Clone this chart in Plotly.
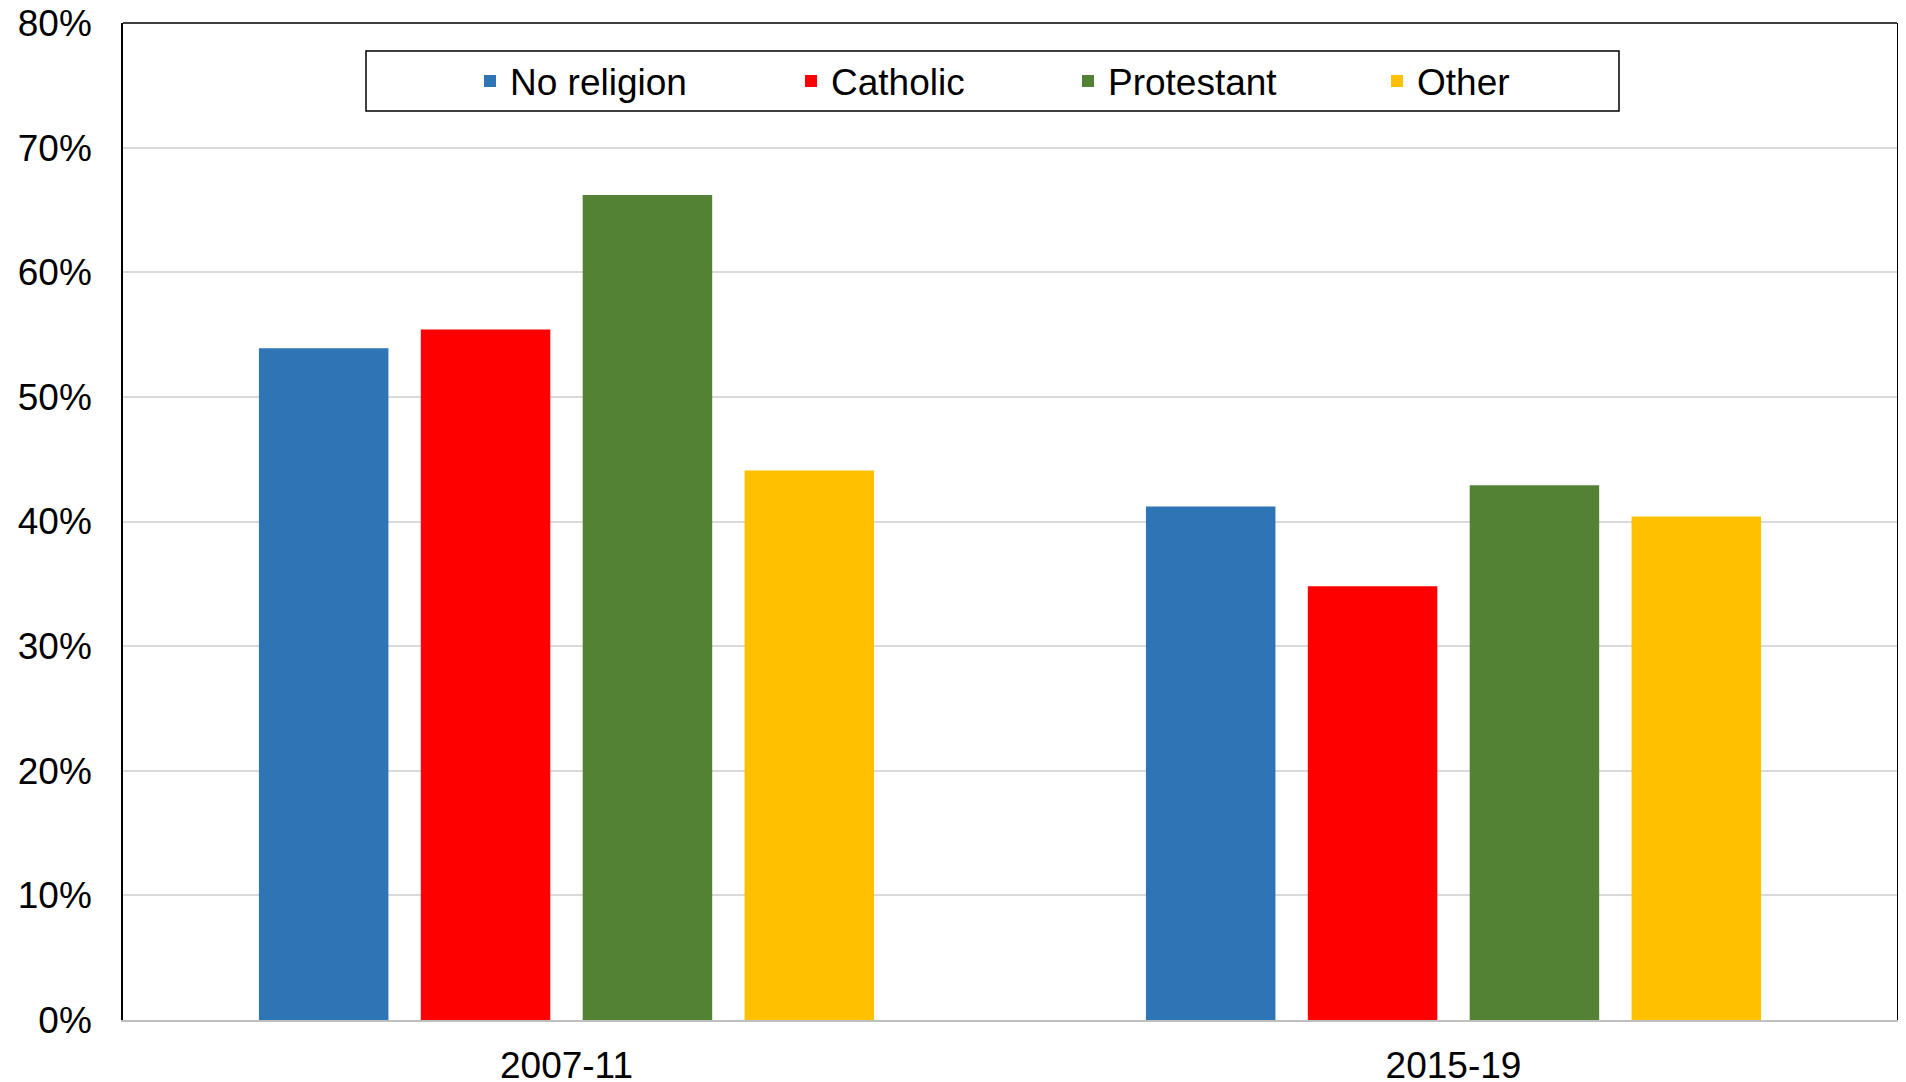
import plotly.graph_objects as go

periods = ["2007-11", "2015-19"]
series_names = ["No religion", "Catholic", "Protestant", "Other"]
no_religion = [53.9, 41.2]
catholic = [55.4, 34.8]
protestant = [66.2, 42.9]
other = [44.1, 40.4]
colors = ["#2E75B6", "#FF0000", "#548235", "#FFC000"]
legend_widths = [276, 232, 264, None]
y_ticks = [0, 10, 20, 30, 40, 50, 60, 70, 80]
y_tick_labels = [f"{v}%" for v in y_ticks]

FONT = "Arial, Liberation Sans, sans-serif"
OFF = 8  # page body margin
W, H = 1890, 1082
L, R, T, B = 115, 1, 15, 70
pw = W - L - R
ph = H - T - B

def px_x(sx):
    return (sx - OFF - L) / pw

def px_y(sy):
    return (H - B - (sy - OFF)) / ph

fig = go.Figure()
for name, vals, col, lw in zip(series_names, [no_religion, catholic, protestant, other], colors, legend_widths):
    kw = {}
    if lw:
        kw["legendwidth"] = lw
    fig.add_trace(go.Bar(x=periods, y=vals, name=name, marker=dict(color=col, line=dict(width=0)), **kw))

fig.update_layout(
    width=W, height=H,
    margin=dict(l=L, r=R, t=T, b=B, pad=0),
    paper_bgcolor="white", plot_bgcolor="white",
    font=dict(family=FONT, size=37, color="black"),
    barmode="group", bargap=0.27, bargroupgap=0.2,
    showlegend=True,
    legend=dict(
        orientation="h", x=px_x(470), xanchor="left", y=px_y(81.5), yanchor="middle",
        bgcolor="rgba(0,0,0,0)", borderwidth=0, font=dict(size=37, family=FONT),
        traceorder="normal",
    ),
    xaxis=dict(
        type="category", automargin=False,
        showgrid=False, showline=True, linecolor="#BFBFBF", linewidth=2,
        ticks="", tickfont=dict(size=37, family=FONT), ticklabelstandoff=12,
        ticklabeloverflow="allow",
    ),
    yaxis=dict(
        automargin=False,
        range=[0, 80], tickvals=y_ticks, ticktext=y_tick_labels,
        showgrid=True, gridcolor="#D9D9D9", gridwidth=1.5,
        showline=True, linecolor="black", linewidth=1.5, mirror=True,
        zeroline=False, ticks="", tickfont=dict(size=37, family=FONT),
        ticklabelstandoff=22, ticklabeloverflow="allow",
    ),
    shapes=[
        dict(type="line", xref="paper", yref="paper", x0=0, x1=1, y0=1, y1=1,
             line=dict(color="black", width=1.5)),
        dict(type="rect", xref="paper", yref="paper",
             x0=px_x(366), x1=px_x(1619), y0=px_y(111), y1=px_y(51),
             line=dict(color="black", width=1.5), fillcolor="rgba(0,0,0,0)", layer="above"),
    ],
)

fig.write_html("out.html")
